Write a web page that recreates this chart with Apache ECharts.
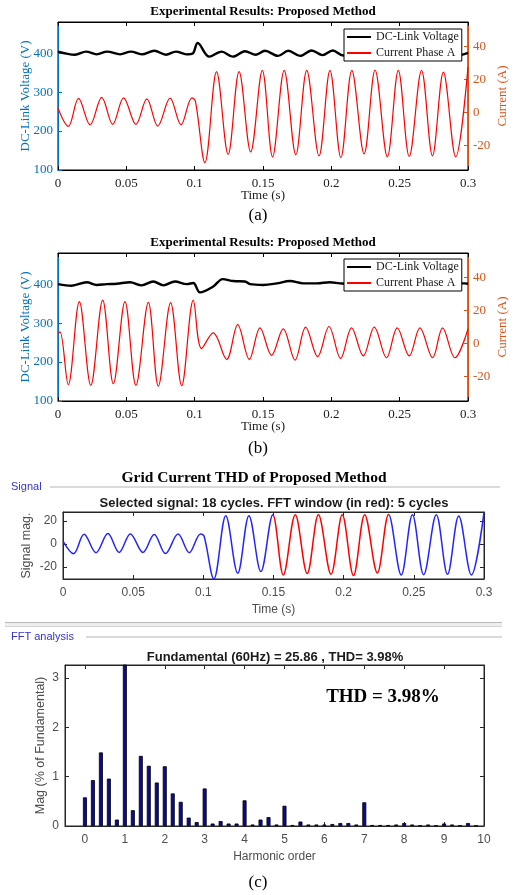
<!DOCTYPE html>
<html>
<head>
<meta charset="utf-8">
<script src="https://cdn.jsdelivr.net/npm/echarts@6.0.0/dist/echarts.min.js"></script>
<style>
  html, body { margin: 0; padding: 0; background: #fff; }
  #chart { width: 516px; height: 895px; }
</style>
</head>
<body>
<div id="chart"></div>
<script>
// ---- Waveform data: [time (s), value] at each ripple / cycle extreme ----

// (a) DC-link voltage (V)
const voltageA = [
  [0, 404], [0.0124, 396], [0.0205, 404], [0.0283, 397], [0.036, 404], [0.0454, 397],
  [0.0534, 404], [0.0612, 397], [0.0705, 406], [0.079, 396], [0.0863, 404], [0.094, 397],
  [0.0985, 399], [0.1022, 426], [0.1107, 391], [0.1197, 404], [0.128, 391], [0.1368, 405],
  [0.1448, 396], [0.1514, 406], [0.161, 393], [0.1685, 406], [0.177, 393], [0.1856, 407],
  [0.1936, 395], [0.201, 407], [0.2087, 394], [0.218, 405], [0.226, 393], [0.235, 405],
  [0.243, 393], [0.251, 405], [0.26, 393], [0.268, 405], [0.276, 393], [0.285, 405],
  [0.293, 395], [0.3, 401]
];

// (a) phase-A current (A); also the signal analysed in (c)
const currentA = [
  [0, 2.5], [0.0075, -8.5], [0.015, 8.5], [0.0235, -7.5], [0.032, 9.2], [0.040, -7.3],
  [0.048, 8.9], [0.057, -7.3], [0.065, 8.3], [0.073, -8.3], [0.082, 8.7], [0.090, -7.5],
  [0.098, 8.9], [0.1005, 7.0], [0.1075, -30.5], [0.116, 24.8], [0.1245, -25.5], [0.1325, 24.8],
  [0.141, -24.0], [0.1495, 25.6], [0.157, -27.0], [0.1655, 25.6], [0.174, -25.8], [0.182, 25.6],
  [0.191, -26.4], [0.199, 25.6], [0.207, -27.5], [0.215, 25.6], [0.224, -25.2], [0.232, 25.8],
  [0.241, -27.0], [0.249, 25.6], [0.257, -26.8], [0.266, 25.6], [0.274, -26.4], [0.282, 24.5],
  [0.291, -27.0], [0.3, 27.6]
];

// (b) DC-link voltage (V)
const voltageB = [
  [0, 400], [0.010, 396], [0.021, 405], [0.0283, 398], [0.0356, 400], [0.0429, 401],
  [0.0527, 405], [0.0612, 397], [0.0697, 407], [0.0771, 397], [0.0856, 407], [0.0941, 400],
  [0.099, 403], [0.1039, 379], [0.1136, 394], [0.1205, 413], [0.1283, 408], [0.1368, 407],
  [0.1405, 400], [0.1502, 398], [0.16, 402], [0.1697, 408], [0.1795, 402], [0.1892, 402],
  [0.199, 405], [0.2063, 402], [0.215, 400], [0.225, 403], [0.235, 399], [0.245, 402],
  [0.255, 399], [0.265, 402], [0.275, 399], [0.285, 402], [0.2976, 402], [0.3, 401]
];

// (b) phase-A current (A)
const currentB = [
  [0, 5.8], [0.0015, 7.0], [0.0075, -25.1], [0.0156, 25.4], [0.024, -25.5], [0.0327, 26.4],
  [0.0405, -24.5], [0.049, 25.4], [0.057, -25.5], [0.0661, 25.0], [0.0734, -26.0], [0.0824, 24.8],
  [0.0905, -25.7], [0.099, 26.4], [0.105, -3.1], [0.1136, 6.4], [0.1234, -9.7], [0.1315, 11.4],
  [0.140, -9.7], [0.1478, 9.5], [0.1563, -7.2], [0.1648, 8.9], [0.1734, -10.1], [0.1812, 9.9],
  [0.19, -8.0], [0.1983, 10.3], [0.2068, -9.1], [0.2148, 9.5], [0.2234, -7.6], [0.2314, 9.9],
  [0.2404, -8.7], [0.2482, 9.5], [0.257, -7.6], [0.2648, 9.5], [0.2741, -8.7], [0.2814, 9.5],
  [0.2904, -8.7], [0.3, 8.9]
];

// FFT window (5 cycles) highlighted in red, seconds
const fftWindow = [0.15, 0.2333];

// (c) harmonic spectrum: order and magnitude (% of fundamental)
const harmonicOrder = [
  0, 0.2, 0.4, 0.6, 0.8, 1.0, 1.2, 1.4, 1.6, 1.8,
  2.0, 2.2, 2.4, 2.6, 2.8, 3.0, 3.2, 3.4, 3.6, 3.8,
  4.0, 4.2, 4.4, 4.6, 4.8, 5.0, 5.2, 5.4, 5.6, 5.8,
  6.0, 6.2, 6.4, 6.6, 6.8, 7.0, 7.2, 7.4, 7.6, 7.8,
  8.0, 8.2, 8.4, 8.6, 8.8, 9.0, 9.2, 9.4, 9.6, 9.8
];
const harmonicMag = [
  0.58, 0.93, 1.49, 0.96, 0.13, 100, 0.32, 1.42, 1.22, 0.88,
  1.21, 0.66, 0.49, 0.17, 0.08, 0.76, 0.05, 0.10, 0.05, 0.05,
  0.52, 0.03, 0.13, 0.18, 0.03, 0.41, 0.02, 0.09, 0.03, 0.03,
  0.03, 0.04, 0.06, 0.06, 0.03, 0.48, 0.02, 0.02, 0.02, 0.03,
  0.06, 0.03, 0.01, 0.03, 0.01, 0.05, 0.03, 0.01, 0.06, 0.01
];

// ---- Tick values ----
const timeTicks = [0, 0.05, 0.1, 0.15, 0.2, 0.25, 0.3];
const voltTicks = [100, 200, 300, 400];
const currTicks = [-20, 0, 20, 40];
const signalTicks = [-20, 0, 20];
const harmTicks = [0, 1, 2, 3, 4, 5, 6, 7, 8, 9, 10];
const magTicks = [0, 1, 2, 3];

const SERIF = '"Liberation Serif", "Times New Roman", serif';
const SANS = '"Liberation Sans", Arial, Helvetica, sans-serif';
const AX_BLUE = '#0072BD';
const AX_ORANGE = '#D95319';
const INK = '#1a1a1a';
const GUI_GRAY = '#4d4d4d';
const GUI_BLUE = '#3333cc';

const fmtNum = v => String(parseFloat(Number(v).toFixed(3)));

function gridBox(left, top, width, height, border) {
  return {
    left, top, width, height,
    show: true, borderColor: border, borderWidth: 1, backgroundColor: '#fff',
    containLabel: false, outerBoundsMode: 'none'
  };
}

function xAxisOf(gridIndex, o) {
  const labelShown = o.position !== 'top';
  return {
    type: 'value', gridIndex, position: o.position || 'bottom',
    min: o.min, max: o.max,
    axisLine: { show: true, onZero: false, lineStyle: { color: o.color, width: 1 } },
    axisTick: { show: true, inside: true, length: 4, customValues: o.ticks, lineStyle: { color: o.color } },
    axisLabel: labelShown ? {
      show: true, customValues: o.ticks, formatter: fmtNum, margin: o.margin,
      fontFamily: o.font, fontSize: o.fontSize, color: o.labelColor
    } : { show: false },
    splitLine: { show: false },
    name: labelShown ? o.name : '',
    nameLocation: 'middle', nameGap: o.nameGap, nameMoveOverlap: false,
    nameTextStyle: { fontFamily: o.font, fontSize: o.nameSize || o.fontSize, color: o.labelColor }
  };
}

function yAxisOf(gridIndex, o) {
  return {
    type: 'value', gridIndex, position: o.position,
    min: o.min, max: o.max,
    axisLine: { show: true, onZero: false, lineStyle: { color: o.color, width: 1 } },
    axisTick: { show: true, inside: true, length: 4, customValues: o.ticks, lineStyle: { color: o.color } },
    axisLabel: o.noLabel ? { show: false } : {
      show: true, customValues: o.ticks, formatter: fmtNum, margin: o.margin,
      fontFamily: o.font, fontSize: o.fontSize, color: o.labelColor
    },
    splitLine: { show: false },
    name: o.name || '',
    nameLocation: 'middle', nameGap: o.nameGap, nameRotate: 90, nameMoveOverlap: false,
    nameTextStyle: { fontFamily: o.font, fontSize: o.nameSize || o.fontSize, color: o.labelColor }
  };
}

// Time axes for the two experimental panels
function expXAxes(gridIndex) {
  const base = { min: 0, max: 0.3, ticks: timeTicks, color: '#000', labelColor: INK,
                 font: SERIF, fontSize: 13, margin: 7, name: 'Time (s)', nameGap: 19 };
  return [xAxisOf(gridIndex, base), xAxisOf(gridIndex, Object.assign({}, base, { position: 'top' }))];
}
function expYAxes(gridIndex) {
  return [
    yAxisOf(gridIndex, { position: 'left', min: 100, max: 480, ticks: voltTicks, color: AX_BLUE,
      labelColor: AX_BLUE, font: SERIF, fontSize: 13, margin: 5,
      name: 'DC-Link Voltage (V)', nameGap: 26 }),
    yAxisOf(gridIndex, { position: 'right', min: -35, max: 55, ticks: currTicks, color: AX_ORANGE,
      labelColor: AX_ORANGE, font: SERIF, fontSize: 13, margin: 5,
      name: 'Current (A)', nameGap: 28 })
  ];
}

function expLegend(top) {
  return {
    orient: 'vertical', left: 344, top,
    padding: [1, 3, 1, 3], itemGap: 2, itemWidth: 24, itemHeight: 2, icon: 'rect',
    backgroundColor: '#fff', borderColor: '#000', borderWidth: 1,
    textStyle: { fontFamily: SERIF, fontSize: 12, color: INK, lineHeight: 14 },
    selectedMode: false,
    data: [
      { name: 'DC-Link Voltage', itemStyle: { color: '#000' } },
      { name: 'Current Phase A', itemStyle: { color: '#ff0000' } }
    ]
  };
}

function txt(x, y, text, font, fill, align) {
  return { type: 'text', x, y, z: 10,
    style: { text, font, fill, align: align || 'center', verticalAlign: 'middle' } };
}
function hline(x1, x2, y, stroke, width) {
  return { type: 'line', z: 5, shape: { x1, y1: y, x2, y2: y },
    style: { stroke, lineWidth: width || 1 } };
}

const chart = echarts.init(document.getElementById('chart'), null, { renderer: 'canvas' });

const option = {
  backgroundColor: '#fff',
  animation: false,
  grid: [
    gridBox(58, 22, 410, 148, '#000'),
    gridBox(58, 253, 410, 148, '#000'),
    gridBox(63, 512, 421, 67, '#262626'),
    gridBox(65, 665, 419, 161, '#262626')
  ],
  xAxis: [
    ...expXAxes(0),
    ...expXAxes(1),
    xAxisOf(2, { min: 0, max: 0.3, ticks: timeTicks, color: '#262626', labelColor: GUI_GRAY,
                 font: SANS, fontSize: 12, margin: 8, name: 'Time (s)', nameGap: 25, nameSize: 12 }),
    xAxisOf(2, { position: 'top', min: 0, max: 0.3, ticks: timeTicks, color: '#262626' }),
    xAxisOf(3, { min: -0.5, max: 10, ticks: harmTicks, color: '#262626', labelColor: GUI_GRAY,
                 font: SANS, fontSize: 12, margin: 8, name: 'Harmonic order', nameGap: 25, nameSize: 12 }),
    xAxisOf(3, { position: 'top', min: -0.5, max: 10, ticks: harmTicks, color: '#262626' })
  ],
  yAxis: [
    ...expYAxes(0),
    ...expYAxes(1),
    yAxisOf(2, { position: 'left', min: -30.5, max: 28, ticks: signalTicks, color: '#262626',
                 labelColor: GUI_GRAY, font: SANS, fontSize: 12, margin: 6,
                 name: 'Signal mag.', nameGap: 30, nameSize: 12.5 }),
    yAxisOf(2, { position: 'right', min: -30.5, max: 28, ticks: signalTicks, color: '#262626', noLabel: true }),
    yAxisOf(3, { position: 'left', min: 0, max: 3.26, ticks: magTicks, color: '#262626',
                 labelColor: GUI_GRAY, font: SANS, fontSize: 12, margin: 6,
                 name: 'Mag (% of Fundamental)', nameGap: 18, nameSize: 12.5 }),
    yAxisOf(3, { position: 'right', min: 0, max: 3.26, ticks: magTicks, color: '#262626', noLabel: true })
  ],
  legend: [expLegend(29), expLegend(259)],
  visualMap: [{
    type: 'piecewise', show: false, seriesIndex: 4, dimension: 0,
    pieces: [{ gt: fftWindow[0], lte: fftWindow[1], color: '#ff0000' }],
    outOfRange: { color: '#2424ff' }
  }],
  series: [
    { name: 'DC-Link Voltage', type: 'line', xAxisIndex: 0, yAxisIndex: 0, data: voltageA,
      smooth: 0.35, symbol: 'none', lineStyle: { color: '#000', width: 2.4 }, z: 3 },
    { name: 'Current Phase A', type: 'line', xAxisIndex: 0, yAxisIndex: 1, data: currentA,
      smooth: 0.35, symbol: 'none', lineStyle: { color: '#ff0000', width: 1.2 }, z: 2 },
    { name: 'DC-Link Voltage', type: 'line', xAxisIndex: 2, yAxisIndex: 2, data: voltageB,
      smooth: 0.35, symbol: 'none', lineStyle: { color: '#000', width: 2.4 }, z: 3 },
    { name: 'Current Phase A', type: 'line', xAxisIndex: 2, yAxisIndex: 3, data: currentB,
      smooth: 0.35, symbol: 'none', lineStyle: { color: '#ff0000', width: 1.2 }, z: 2 },
    { name: 'Signal', type: 'line', xAxisIndex: 4, yAxisIndex: 4, data: currentA,
      smooth: 0.35, symbol: 'none', lineStyle: { width: 1.5 }, z: 2 },
    { name: 'Harmonics', type: 'bar', xAxisIndex: 6, yAxisIndex: 6,
      data: harmonicOrder.map((h, i) => [h, harmonicMag[i]]),
      barWidth: 4, clip: true,
      itemStyle: { color: '#0c0c8a', borderColor: '#000', borderWidth: 0.8 } }
  ],
  graphic: [
    txt(263, 12, 'Experimental Results: Proposed Method', 'bold 13px ' + SERIF, '#000'),
    txt(263, 243, 'Experimental Results: Proposed Method', 'bold 13px ' + SERIF, '#000'),
    txt(258, 216, '(a)', '17px ' + SERIF, '#000'),
    txt(258, 449, '(b)', '17px ' + SERIF, '#000'),
    txt(258, 883, '(c)', '17px ' + SERIF, '#000'),
    txt(254, 478, 'Grid Current THD of Proposed Method', 'bold 15.5px ' + SERIF, '#000'),
    txt(11, 487, 'Signal', '11px ' + SANS, GUI_BLUE, 'left'),
    hline(50, 500, 487, '#b5b5b5'),
    txt(274, 503, 'Selected signal: 18 cycles. FFT window (in red): 5 cycles', 'bold 13px ' + SANS, INK),
    { type: 'rect', z: 5, shape: { x: 5, y: 622, width: 497, height: 4 },
      style: { fill: '#eeeeee', stroke: null } },
    hline(5, 502, 622.5, '#b9b9b9'),
    hline(5, 502, 626.5, '#d4d4d4'),
    txt(11, 637, 'FFT analysis', '11px ' + SANS, GUI_BLUE, 'left'),
    hline(86, 502, 637, '#b5b5b5'),
    txt(275, 657, 'Fundamental (60Hz) = 25.86 , THD= 3.98%', 'bold 13px ' + SANS, INK),
    txt(383, 697, 'THD = 3.98%', 'bold 19px ' + SERIF, '#000')
  ]
};

chart.setOption(option);
</script>
</body>
</html>
